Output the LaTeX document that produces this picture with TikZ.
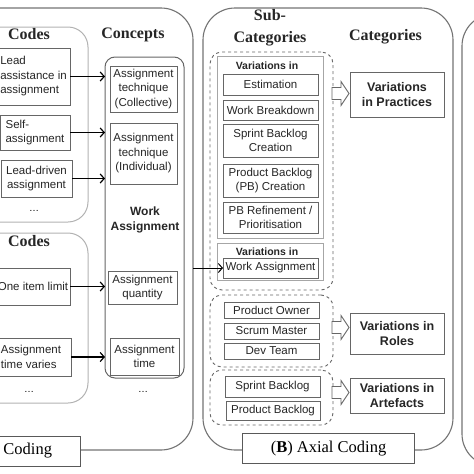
\documentclass[tikz,border=0pt]{standalone}
\usepackage{fontspec}
\setmainfont{Liberation Serif}
\setsansfont{Liberation Sans}
\usetikzlibrary{arrows.meta}

\begin{document}
\begin{tikzpicture}
[x=1pt,y=-1pt,
  outerDecorate/.style={draw=black!55,line width=1.1pt,rounded corners=32pt,outer sep=0pt},
  codesDecorate/.style={draw=black!30,line width=1pt,rounded corners=20pt,outer sep=0pt},
  conceptDecorate/.style={draw=black!60,line width=1pt,rounded corners=10pt,outer sep=0pt},
  groupDecorate/.style={draw=black!60,dashed,line width=0.9pt,rounded corners=12pt,outer sep=0pt},
  listDecorate/.style={draw=black!35,line width=1pt,outer sep=0pt},
  boxDecorate/.style={draw=black!60,line width=1pt,fill=white,inner sep=1pt,outer sep=0pt,
    align=center,text=black!85,font=\sffamily\fontsize{11.5}{14.5}\selectfont},
  catDecorate/.style={boxDecorate,font=\sffamily\bfseries\fontsize{12.5}{15.5}\selectfont},
  titleDecorate/.style={align=center,text=black!85,font=\bfseries\fontsize{16}{22}\selectfont},
  smallTitle/.style={text=black!85,font=\sffamily\bfseries\fontsize{10.5}{13}\selectfont},
  labelDecorate/.style={draw=black!65,line width=1pt,fill=white,inner xsep=28pt,minimum height=30pt,
    outer sep=0pt,font=\fontsize{16.5}{20}\selectfont},
  lineDecorate/.style={-{Straight Barb[length=4pt,width=9pt]},line width=1.2pt},
  hollowDecorate/.style={draw=black!60,line width=0.9pt,fill=white,line join=miter}]
\useasboundingbox (0,0) rectangle (474,474);
\clip (0,0) rectangle (474,474);

%% panels
\node (openpanel) [outerDecorate,minimum width=233pt,minimum height=442pt] at (76.5,229) {};
\node (axialpanel) [outerDecorate,minimum width=250pt,minimum height=442pt] at (328,229) {};
\node (selectpanel) [outerDecorate,minimum width=138pt,minimum height=452pt] at (531,240) {};
\node (codes1) [codesDecorate,minimum width=128pt,minimum height=195pt] at (24,124.5) {};
\node (codes2) [codesDecorate,minimum width=128pt,minimum height=170pt] at (24,318) {};
\node (concepts) [conceptDecorate,minimum width=79pt,minimum height=321pt] at (144.5,217.5) {};

%% titles
\node (codestitle1) [titleDecorate] at (29,34) {Codes};
\node (codestitle2) [titleDecorate] at (29,241) {Codes};
\node (conceptstitle) [titleDecorate] at (133,35) {Concepts};
\node (subtitle) [titleDecorate] at (270,28) {Sub-\\Categories};
\node (cattitle) [titleDecorate] at (385.5,37) {Categories};

%% codes
\node (c1) [boxDecorate,align=left,minimum width=73pt,minimum height=57pt] at (33.5,76.5) {Lead\\assistance in\\assignment};
\node (c2) [boxDecorate,align=left,minimum width=70pt,minimum height=35pt] at (35,132.5) {Self-\\assignment};
\node (c3) [boxDecorate,minimum width=71pt,minimum height=37pt] at (36.5,178.5) {Lead-driven\\assignment};
\node (c4) [boxDecorate,minimum width=74pt,minimum height=37pt] at (33,286.5) {One item limit};
\node (c5) [boxDecorate,align=left,minimum width=80pt,minimum height=38pt] at (31,357) {Assignment\\time varies};
\node (codesdots1) [font=\sffamily] at (34,211) {\dots};
\node (codesdots2) [font=\sffamily] at (29,392) {\dots};

%% concepts
\node (k1) [boxDecorate,minimum width=67pt,minimum height=46pt] at (143.5,89) {Assignment\\technique\\(Collective)};
\node (k2) [boxDecorate,minimum width=67pt,minimum height=61pt] at (143.5,153.5) {Assignment\\technique\\(Individual)};
\node (workassign) [text=black!85,align=center,font=\sffamily\bfseries\fontsize{12}{15}\selectfont] at (145,220) {Work\\Assignment};
\node (k3) [boxDecorate,minimum width=69pt,minimum height=33pt] at (142.5,287.5) {Assignment\\quantity};
\node (k4) [boxDecorate,minimum width=69pt,minimum height=37pt] at (144.5,356.5) {Assignment\\time};
\node (conceptdots) [font=\sffamily] at (143,392) {\dots};

%% sub-categories
\node (g1) [groupDecorate,minimum width=123pt,minimum height=238pt] at (271.5,171) {};
\node (g2) [groupDecorate,minimum width=123pt,minimum height=72pt] at (271.5,331) {};
\node (g3) [groupDecorate,minimum width=123pt,minimum height=55pt] at (271.5,397.5) {};
\node (v1) [listDecorate,minimum width=106pt,minimum height=182pt] at (270,147) {};
\node (v2) [listDecorate,minimum width=106pt,minimum height=37pt] at (270,261.5) {};
\node (v1title) [smallTitle] at (267,66) {Variations in};
\node (v2title) [smallTitle] at (267,252) {Variations in};
\node (est) [boxDecorate,minimum width=95pt,minimum height=21pt] at (270.5,84.5) {Estimation};
\node (wbd) [boxDecorate,minimum width=95pt,minimum height=20pt] at (270.5,110) {Work Breakdown};
\node (sbc) [boxDecorate,minimum width=95pt,minimum height=33pt] at (270.5,140.5) {Sprint Backlog\\Creation};
\node (pbc) [boxDecorate,minimum width=95pt,minimum height=33pt] at (270.5,180.5) {Product Backlog\\(PB) Creation};
\node (pbr) [boxDecorate,minimum width=95pt,minimum height=31pt] at (270.5,217.5) {PB Refinement /\\Prioritisation};
\node (wa) [boxDecorate,minimum width=95pt,minimum height=20pt] at (270.5,268) {Work Assignment};
\node (po) [boxDecorate,minimum width=95pt,minimum height=16pt] at (271.5,310) {Product Owner};
\node (sm) [boxDecorate,minimum width=95pt,minimum height=16pt] at (271.5,331) {Scrum Master};
\node (dt) [boxDecorate,minimum width=95pt,minimum height=16pt] at (271.5,351) {Dev Team};
\node (spb) [boxDecorate,minimum width=95pt,minimum height=21pt] at (272.5,386.5) {Sprint Backlog};
\node (pdb) [boxDecorate,minimum width=94pt,minimum height=19pt] at (273,410.5) {Product Backlog};

%% categories
\node (vp) [catDecorate,minimum width=94pt,minimum height=45pt] at (397,94.5) {Variations\\in Practices};
\node (vr) [catDecorate,minimum width=94pt,minimum height=41pt] at (397,333.5) {Variations in\\Roles};
\node (va) [catDecorate,minimum width=94pt,minimum height=35pt] at (397,395.5) {Variations in\\Artefacts};
%% hollow arrows from the groups to the categories
\foreach \arrowname/\y in {ha1/93.5, ha2/327.5, ha3/392.5}
{
  \coordinate (\arrowname) at (332,\y);
  \draw[hollowDecorate] (\arrowname) ++(0,-6) -- ++(9,0) -- ++(0,-6) -- ++(8,12)
    -- ++(-8,12) -- ++(0,-6) -- ++(-9,0) -- cycle;
}

%% edges
\foreach \codename in {c1,c2,c3,c4,c5}
{
  \draw[lineDecorate] (\codename.east) -- (\codename.east -| concepts.west);
}
\draw[lineDecorate,line width=1pt] (wa.west -| openpanel.east) -- (wa.west);

%% panel labels
\node (openlabel) [labelDecorate,anchor=east] at (80,451) {Coding};
\node (axiallabel) [labelDecorate] at (328.5,448.5) {(\textbf{B}) Axial Coding};
\end{tikzpicture}
\end{document}
